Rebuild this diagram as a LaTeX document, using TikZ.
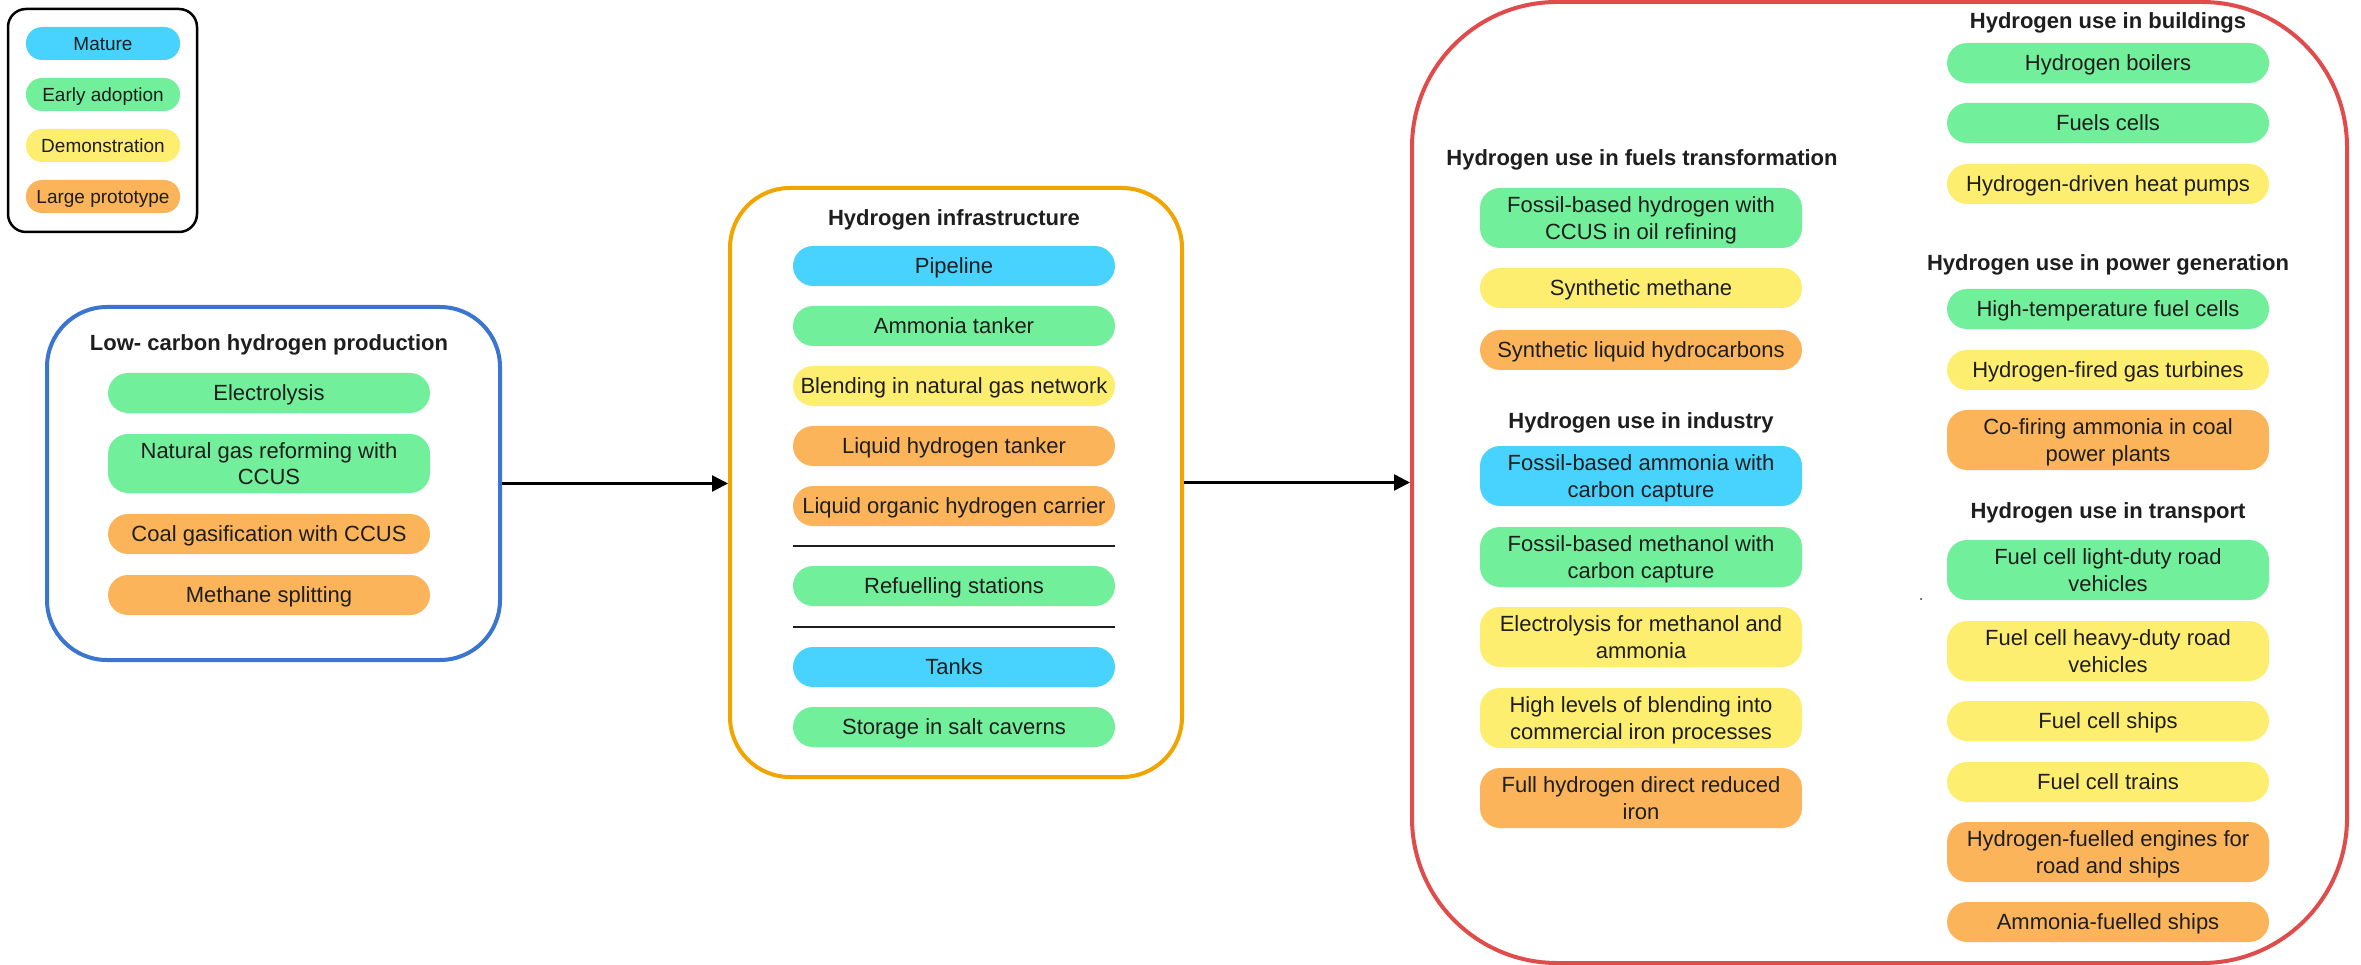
\documentclass[tikz,border=0pt]{standalone}
\usepackage{fontspec}
\setmainfont{Liberation Sans}
\usetikzlibrary{arrows.meta}
\definecolor{cMature}{HTML}{48D3FE}
\definecolor{cEarly}{HTML}{72EF9B}
\definecolor{cDemo}{HTML}{FEEE70}
\definecolor{cLarge}{HTML}{FBB45A}
\definecolor{cBlue}{HTML}{3A75CF}
\definecolor{cOrange}{HTML}{F0A500}
\definecolor{cRed}{HTML}{E04B4B}
\definecolor{txt}{HTML}{1E1E1E}
\begin{document}
\begin{tikzpicture}[x=1pt,y=-1pt,
  pill/.style={rounded corners=20pt, minimum width=322pt, minimum height=40pt, inner sep=0pt, align=center, text depth=0pt, font=\fontsize{22}{26.5}\selectfont, text=txt},
  pilltwo/.style={pill, minimum height=60pt},
  lpill/.style={rounded corners=16pt, minimum width=154pt, minimum height=33pt, inner sep=0pt, text depth=0pt, font=\fontsize{19}{23}\selectfont, text=txt},
  ttl/.style={font=\bfseries\fontsize{22}{26}\selectfont, text=txt, inner sep=0pt, text depth=0pt},
  mature/.style={fill=cMature},
  early/.style={fill=cEarly},
  demo/.style={fill=cDemo},
  large/.style={fill=cLarge},
  grp/.style={line width=4pt, fill=white, inner sep=0pt},
  conn/.style={line width=2.5pt, -{Triangle[length=16pt,width=16pt]}},
  sep/.style={line width=2pt, draw=txt}
]
\useasboundingbox (0,0) rectangle (2361,965);
\fill[white] (0,0) rectangle (2361,965);

% legend
\node[draw=black, line width=2.5pt, rounded corners=18pt, minimum width=189pt, minimum height=223pt, inner sep=0pt] (legend) at (102.5,120.5) {};
\node[lpill, mature] (lmature) at (103,43.5) {Mature};
\node[lpill, early] (learly) at (103,94.5) {Early adoption};
\node[lpill, demo] (ldemo) at (103,145.5) {Demonstration};
\node[lpill, large] (llarge) at (103,196.5) {Large prototype};

% group boxes
\node[grp, draw=cBlue, rounded corners=60pt, minimum width=453pt, minimum height=353pt] (prod) at (273.5,483.5) {};
\node[grp, draw=cOrange, rounded corners=60pt, minimum width=452pt, minimum height=589pt] (infra) at (956,482.5) {};
\node[grp, draw=cRed, rounded corners=145pt, minimum width=935pt, minimum height=961pt] (use) at (1879.5,482.5) {};

% connectors
\draw[conn] (prod.east) -- (prod.east -| infra.west);
\draw[conn] (infra.east) -- (infra.east -| use.west);

% production
\node[ttl] (tprod) at (269,343) {Low- carbon hydrogen production};
\node[pill, early] (p1) at (269,393) {Electrolysis};
\node[pilltwo, early, minimum height=59pt] (p2) at (269,463.5) {Natural gas reforming with\\CCUS};
\node[pill, large] (p3) at (269,534) {Coal gasification with CCUS};
\node[pill, large] (p4) at (269,595) {Methane splitting};

% infrastructure
\node[ttl] (tinfra) at (954,218) {Hydrogen infrastructure};
\node[pill, mature] (i1) at (954,266) {Pipeline};
\node[pill, early] (i2) at (954,326) {Ammonia tanker};
\node[pill, demo] (i3) at (954,386) {Blending in natural gas network};
\node[pill, large] (i4) at (954,446) {Liquid hydrogen tanker};
\node[pill, large] (i5) at (954,506) {Liquid organic hydrogen carrier};
\coordinate (s1a) at (793,546);
\coordinate (s1b) at (1115,546);
\draw[sep] (s1a) -- (s1b);
\node[pill, early] (i6) at (954,586) {Refuelling stations};
\coordinate (s2a) at (793,627);
\coordinate (s2b) at (1115,627);
\draw[sep] (s2a) -- (s2b);
\node[pill, mature] (i7) at (954,667) {Tanks};
\node[pill, early] (i8) at (954,727) {Storage in salt caverns};

% fuels transformation
\node[ttl] (tfuel) at (1642,158) {Hydrogen use in fuels transformation};
\node[pilltwo, early] (f1) at (1641,218) {Fossil-based hydrogen with\\CCUS in oil refining};
\node[pill, demo] (f2) at (1641,288) {Synthetic methane};
\node[pill, large] (f3) at (1641,350) {Synthetic liquid hydrocarbons};

% industry
\node[ttl] (tind) at (1641,421) {Hydrogen use in industry};
\node[pilltwo, mature] (n1) at (1641,476) {Fossil-based ammonia with\\carbon capture};
\node[pilltwo, early] (n2) at (1641,557) {Fossil-based methanol with\\carbon capture};
\node[pilltwo, demo] (n3) at (1641,637) {Electrolysis for methanol and\\ammonia};
\node[pilltwo, demo] (n4) at (1641,718) {High levels of blending into\\commercial iron processes};
\node[pilltwo, large] (n5) at (1641,798) {Full hydrogen direct reduced\\iron};

% buildings
\node[ttl] (tbld) at (2108,21) {Hydrogen use in buildings};
\node[pill, early] (b1) at (2108,63) {Hydrogen boilers};
\node[pill, early] (b2) at (2108,123) {Fuels cells};
\node[pill, demo] (b3) at (2108,184) {Hydrogen-driven heat pumps};

% power generation
\node[ttl] (tpow) at (2108,263) {Hydrogen use in power generation};
\node[pill, early] (g1) at (2108,309) {High-temperature fuel cells};
\node[pill, demo] (g2) at (2108,370) {Hydrogen-fired gas turbines};
\node[pilltwo, large] (g3) at (2108,440) {Co-firing ammonia in coal\\power plants};

% transport
\node[ttl] (ttr) at (2108,511) {Hydrogen use in transport};
\node[pilltwo, early] (t1) at (2108,570) {Fuel cell light-duty road\\vehicles};
\node[pilltwo, demo] (t2) at (2108,651) {Fuel cell heavy-duty road\\vehicles};
\node[pill, demo] (t3) at (2108,721) {Fuel cell ships};
\node[pill, demo] (t4) at (2108,782) {Fuel cell trains};
\node[pilltwo, large] (t5) at (2108,852) {Hydrogen-fuelled engines for\\road and ships};
\node[pill, large] (t6) at (2108,922) {Ammonia-fuelled ships};

\fill[txt] (1921,599) circle (1pt);
\end{tikzpicture}
\end{document}
